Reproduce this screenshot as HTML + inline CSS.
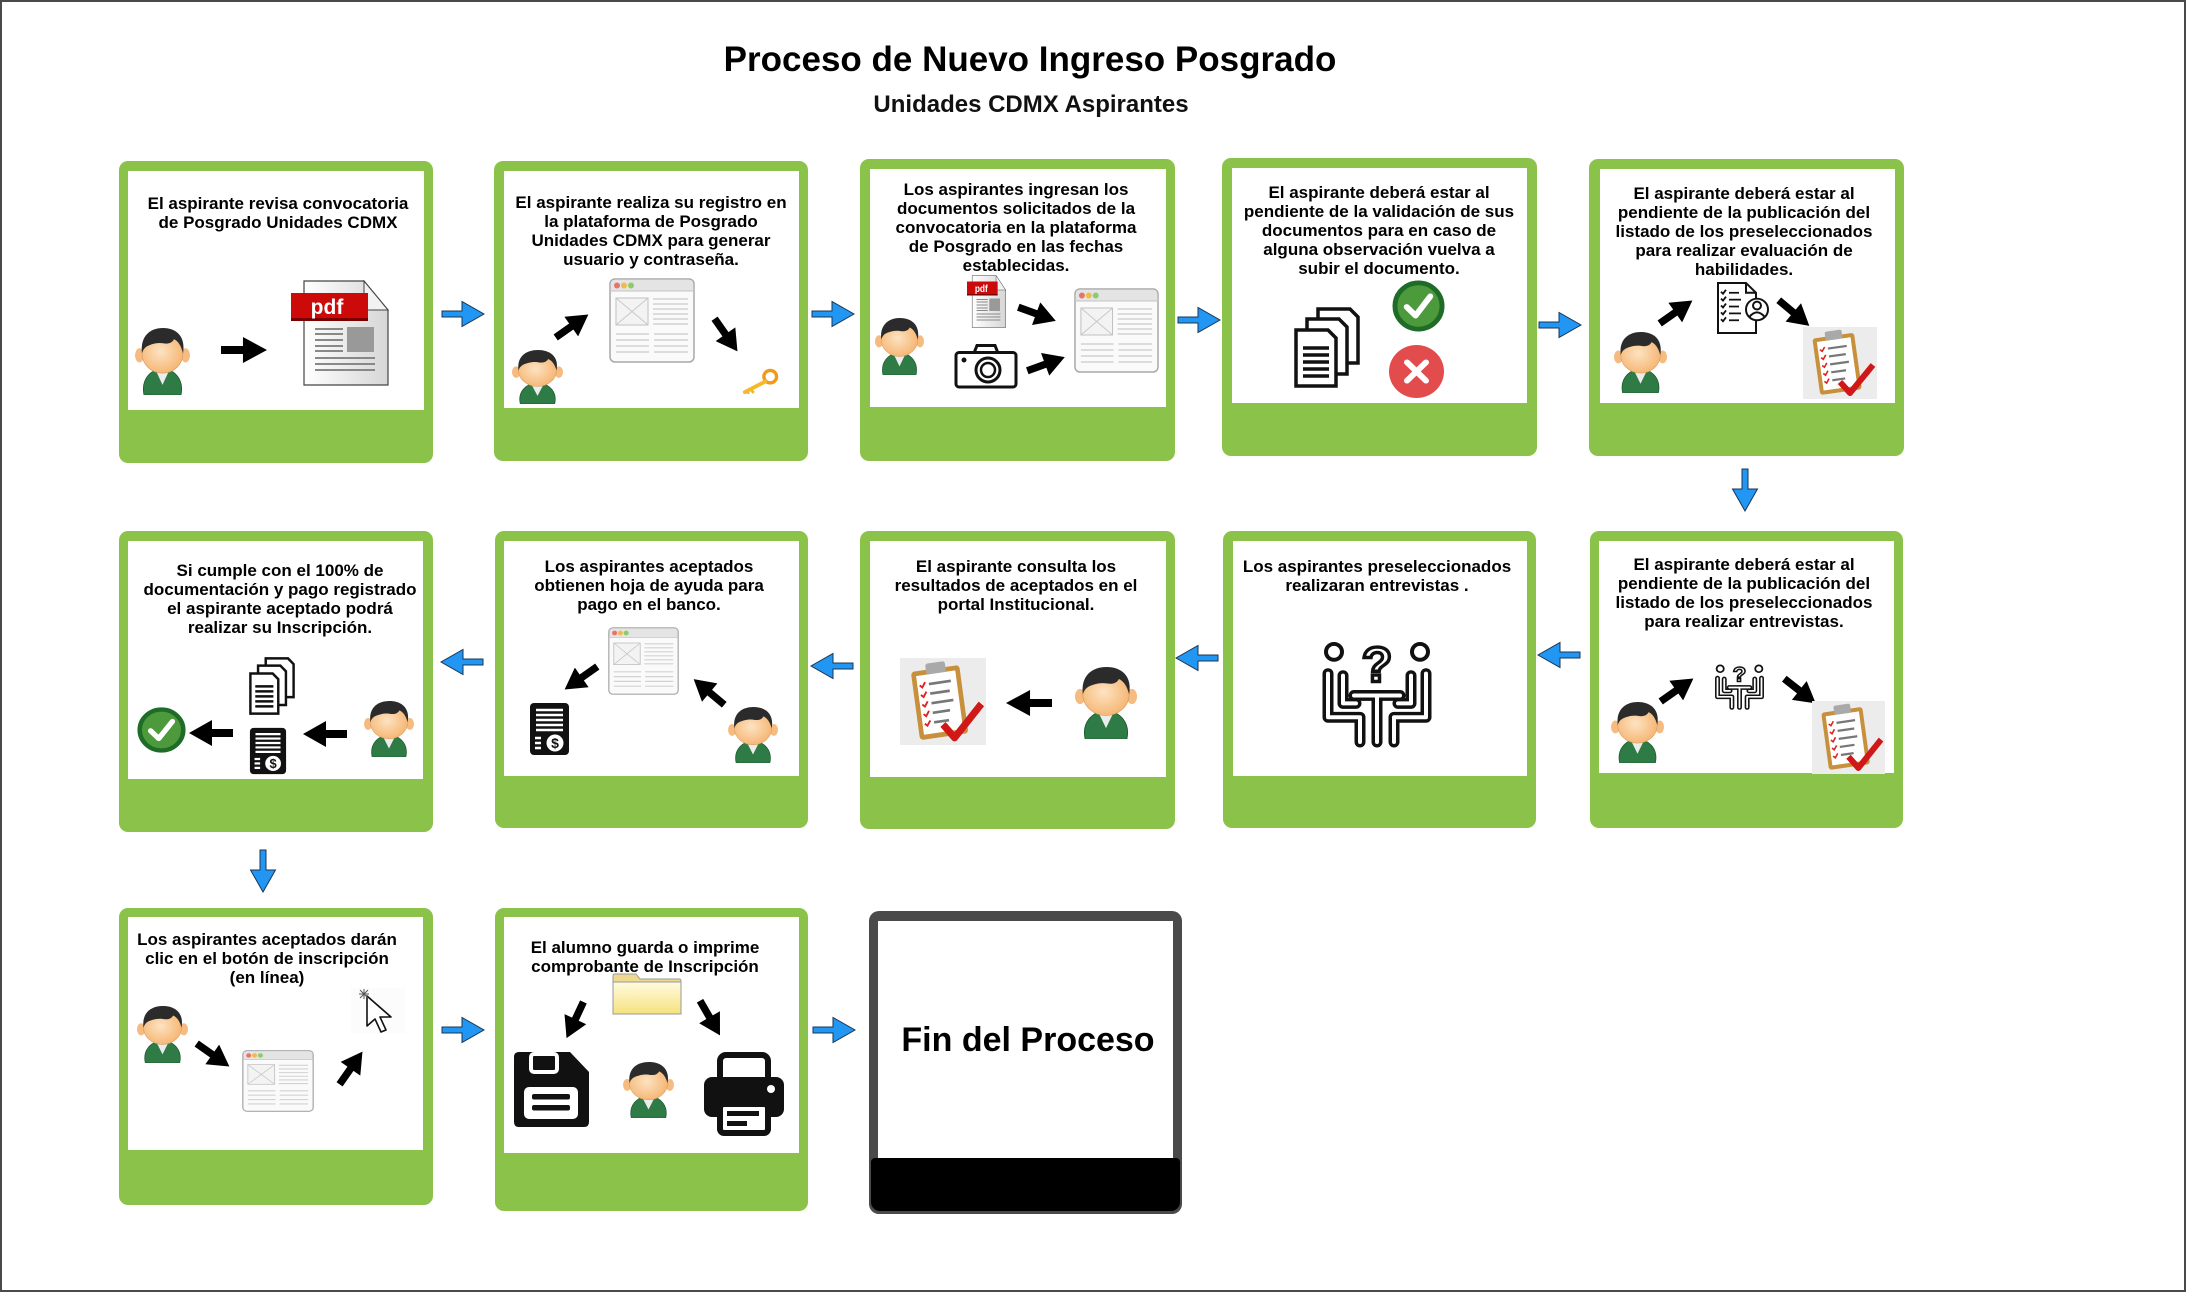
<!DOCTYPE html>
<html><head><meta charset="utf-8">
<style>
html,body{margin:0;padding:0;}
body{width:2186px;height:1292px;position:relative;overflow:hidden;background:#fff;font-family:"Liberation Sans",Arial,sans-serif;}
.frame{position:absolute;left:0;top:0;width:2182px;height:1288px;border:2px solid #4a4a4a;}
.g{position:absolute;background:#8bc34a;border-radius:9px;}
.w{position:absolute;background:#fff;}
.t{position:absolute;font-weight:bold;font-size:17px;line-height:19.2px;text-align:center;color:#000;white-space:nowrap;transform:translateX(-50%);}
.title{position:absolute;left:1030px;top:42px;font-size:35px;line-height:35px;font-weight:bold;white-space:nowrap;transform:translateX(-50%);color:#000;}
.sub{position:absolute;left:1031px;top:93px;font-size:24px;line-height:24px;font-weight:bold;white-space:nowrap;transform:translateX(-50%);color:#111;}
svg.ov{position:absolute;left:0;top:0;}
</style></head>
<body>
<div class="frame"></div>
<div class="title">Proceso de Nuevo Ingreso Posgrado</div>
<div class="sub">Unidades CDMX Aspirantes</div>

<!-- Row 1 -->
<div class="g" style="left:119px;top:161px;width:314px;height:302px"></div>
<div class="w" style="left:128px;top:171px;width:296px;height:239px"></div>
<div class="g" style="left:494px;top:161px;width:314px;height:300px"></div>
<div class="w" style="left:504px;top:171px;width:295px;height:237px"></div>
<div class="g" style="left:860px;top:159px;width:315px;height:302px"></div>
<div class="w" style="left:870px;top:169px;width:296px;height:238px"></div>
<div class="g" style="left:1222px;top:158px;width:315px;height:298px"></div>
<div class="w" style="left:1232px;top:168px;width:295px;height:235px"></div>
<div class="g" style="left:1589px;top:159px;width:315px;height:297px"></div>
<div class="w" style="left:1600px;top:169px;width:295px;height:234px"></div>
<!-- Row 2 -->
<div class="g" style="left:119px;top:531px;width:314px;height:301px"></div>
<div class="w" style="left:128px;top:541px;width:295px;height:238px"></div>
<div class="g" style="left:495px;top:531px;width:313px;height:297px"></div>
<div class="w" style="left:504px;top:541px;width:295px;height:235px"></div>
<div class="g" style="left:860px;top:531px;width:315px;height:298px"></div>
<div class="w" style="left:870px;top:541px;width:296px;height:236px"></div>
<div class="g" style="left:1223px;top:531px;width:313px;height:297px"></div>
<div class="w" style="left:1233px;top:541px;width:294px;height:235px"></div>
<div class="g" style="left:1590px;top:531px;width:313px;height:297px"></div>
<div class="w" style="left:1599px;top:541px;width:295px;height:232px"></div>
<!-- Row 3 -->
<div class="g" style="left:119px;top:908px;width:314px;height:297px"></div>
<div class="w" style="left:128px;top:917px;width:295px;height:233px"></div>
<div class="g" style="left:495px;top:908px;width:313px;height:303px"></div>
<div class="w" style="left:504px;top:917px;width:295px;height:236px"></div>
<!-- Fin -->
<div style="position:absolute;left:869px;top:911px;width:313px;height:303px;background:#4a4a4a;border-radius:10px"></div>
<div class="w" style="left:878px;top:921px;width:295px;height:237px"></div>
<div style="position:absolute;left:871px;top:1158px;width:309px;height:53px;background:#000;border-radius:4px 4px 9px 9px"></div>
<div style="position:absolute;left:1028px;top:1020px;transform:translateX(-50%);font-size:34px;line-height:40px;font-weight:bold;white-space:nowrap;color:#000">Fin del Proceso</div>

<!-- Texts -->
<div class="t" style="left:278px;top:193.5px">El aspirante revisa convocatoria<br>de Posgrado Unidades CDMX</div>
<div class="t" style="left:651px;top:192.5px">El aspirante realiza su registro en<br>la plataforma de Posgrado<br>Unidades CDMX para generar<br>usuario y contraseña.</div>
<div class="t" style="left:1016px;top:179.5px">Los aspirantes ingresan los<br>documentos solicitados de la<br>convocatoria en la plataforma<br>de Posgrado en las fechas<br>establecidas.</div>
<div class="t" style="left:1379px;top:182.5px">El aspirante deberá estar al<br>pendiente de la validación de sus<br>documentos para en caso de<br>alguna observación vuelva a<br>subir el documento.</div>
<div class="t" style="left:1744px;top:183.5px">El aspirante deberá estar al<br>pendiente de la publicación del<br>listado de los preseleccionados<br>para realizar evaluación de<br>habilidades.</div>
<div class="t" style="left:280px;top:560.5px">Si cumple con el 100% de<br>documentación y pago registrado<br>el aspirante aceptado podrá<br>realizar su Inscripción.</div>
<div class="t" style="left:649px;top:556.5px">Los aspirantes aceptados<br>obtienen hoja de ayuda para<br>pago en el banco.</div>
<div class="t" style="left:1016px;top:556.5px">El aspirante consulta los<br>resultados de aceptados en el<br>portal Institucional.</div>
<div class="t" style="left:1377px;top:556.5px">Los aspirantes preseleccionados<br>realizaran entrevistas .</div>
<div class="t" style="left:1744px;top:554.5px">El aspirante deberá estar al<br>pendiente de la publicación del<br>listado de los preseleccionados<br>para realizar entrevistas.</div>
<div class="t" style="left:267px;top:929.5px">Los aspirantes aceptados darán<br>clic en el botón de inscripción<br>(en línea)</div>
<div class="t" style="left:645px;top:937.5px">El alumno guarda o imprime<br>comprobante de Inscripción</div>

<svg class="ov" width="2186" height="1292" viewBox="0 0 2186 1292" xmlns="http://www.w3.org/2000/svg" xmlns:xlink="http://www.w3.org/1999/xlink">
<defs>
 <radialGradient id="face" cx="0.45" cy="0.45" r="0.6">
  <stop offset="0" stop-color="#fde3c2"/><stop offset="1" stop-color="#f5b470"/>
 </radialGradient>
 <linearGradient id="pg" x1="0" y1="0" x2="1" y2="0">
  <stop offset="0" stop-color="#ffffff"/><stop offset="1" stop-color="#d6d6d6"/>
 </linearGradient>
 <linearGradient id="fold" x1="0" y1="0" x2="0" y2="1">
  <stop offset="0" stop-color="#fffbe0"/><stop offset="1" stop-color="#f6e27e"/>
 </linearGradient>
 <symbol id="person" viewBox="0 0 55 66" preserveAspectRatio="none">
  <path d="M9,66 C6,52 14,41 27.5,40 C41,41 49,52 46,66 Z" fill="#2f7b46" stroke="#1e5a31" stroke-width="0.8"/>
  <path d="M20,40 L27.5,56 L35,40 Z" fill="#ececec"/>
  <ellipse cx="4.5" cy="27" rx="4.5" ry="7" fill="#f6bb80"/>
  <ellipse cx="50.5" cy="27" rx="4.5" ry="7" fill="#f6bb80"/>
  <ellipse cx="27.5" cy="25" rx="20.5" ry="19.5" fill="url(#face)" stroke="#d6995c" stroke-width="0.6"/>
  <path d="M7,25 C5,8 15,0 28,0 C41,0 51,8 48,25 C46,17 43,13 39,11 C37,15 33,16 28,15 C22,14 16,16 12,18 C9,20 8,22 7,25 Z" fill="#2b2b2b"/>
 </symbol>
 <symbol id="ba" viewBox="0 0 44 26" preserveAspectRatio="none">
  <polygon points="0,9 21,9 21,0 44,13 21,26 21,17 0,17" fill="#000"/>
 </symbol>
 <symbol id="bar" viewBox="0 0 44 27" preserveAspectRatio="none">
  <polygon points="1,10.5 21,10.5 21,1 43,13.5 21,26 21,16.5 1,16.5" fill="#2196f3" stroke="#1b3553" stroke-width="1"/>
 </symbol>
 <symbol id="pdf" viewBox="0 0 98 106" preserveAspectRatio="none">
  <path d="M13,1 H73 L97,30 V105 H13 Z" fill="url(#pg)" stroke="#444" stroke-width="1.2"/>
  <path d="M73,1 L97,30 H76 Q73,30 73,27 Z" fill="#f2f2f2" stroke="#444" stroke-width="1"/>
  <rect x="0" y="13" width="77" height="28" fill="#cc0a0a"/>
  <rect x="0" y="38" width="77" height="3" fill="#7a0000"/>
  <text x="36" y="34" font-family="Liberation Sans, Arial, sans-serif" font-weight="bold" font-size="21" fill="#fff" text-anchor="middle">pdf</text>
  <g stroke="#888" stroke-width="2">
   <line x1="24" y1="49" x2="52" y2="49"/><line x1="24" y1="54" x2="52" y2="54"/><line x1="24" y1="60" x2="52" y2="60"/><line x1="24" y1="66" x2="52" y2="66"/><line x1="24" y1="71" x2="52" y2="71"/>
   <line x1="24" y1="78" x2="84" y2="78"/><line x1="24" y1="84" x2="84" y2="84"/><line x1="24" y1="90" x2="84" y2="90"/>
  </g>
  <rect x="56" y="47" width="27" height="25" fill="#999"/>
 </symbol>
 <symbol id="browser" viewBox="0 0 86 85" preserveAspectRatio="none">
  <rect x="1" y="1" width="84" height="83" rx="5" fill="#fafafa" stroke="#a8a8a8" stroke-width="1.5"/>
  <path d="M1.8,13 V6 Q1.8,1.8 6,1.8 H80 Q84.2,1.8 84.2,6 V13 Z" fill="#e4e4e4"/>
  <line x1="1" y1="13" x2="85" y2="13" stroke="#c4c4c4"/>
  <circle cx="8" cy="7.5" r="3" fill="#e8736a"/>
  <circle cx="15" cy="7.5" r="3" fill="#eebc4a"/>
  <circle cx="22" cy="7.5" r="3" fill="#8ccc6a"/>
  <rect x="7" y="20" width="32" height="27" fill="#f3f3f3" stroke="#c0c0c0"/>
  <path d="M7,20 L39,47 M39,20 L7,47" stroke="#c8c8c8"/>
  <g stroke="#d2d2d2" stroke-width="1.5">
   <line x1="44" y1="21" x2="79" y2="21"/><line x1="44" y1="26" x2="79" y2="26"/><line x1="44" y1="31" x2="79" y2="31"/><line x1="44" y1="36" x2="79" y2="36"/><line x1="44" y1="41" x2="79" y2="41"/><line x1="44" y1="46" x2="79" y2="46"/>
   <line x1="7" y1="56" x2="40" y2="56"/><line x1="45" y1="56" x2="79" y2="56"/>
   <line x1="7" y1="62" x2="40" y2="62"/><line x1="45" y1="62" x2="79" y2="62"/>
   <line x1="7" y1="68" x2="40" y2="68"/><line x1="45" y1="68" x2="79" y2="68"/>
   <line x1="7" y1="74" x2="40" y2="74"/><line x1="45" y1="74" x2="79" y2="74"/>
  </g>
 </symbol>
 <symbol id="key" viewBox="0 0 40 27" preserveAspectRatio="none">
  <circle cx="31" cy="9" r="6.5" fill="none" stroke="#f09a1a" stroke-width="3.5"/>
  <line x1="26" y1="14" x2="5" y2="25" stroke="#f5b82a" stroke-width="4" stroke-linecap="round"/>
  <line x1="11" y1="22" x2="14" y2="26" stroke="#f5b82a" stroke-width="3"/>
  <line x1="7" y1="24" x2="9" y2="27" stroke="#f5b82a" stroke-width="3"/>
 </symbol>
 <symbol id="camera" viewBox="0 0 64 46" preserveAspectRatio="none">
  <path d="M20,10 L23,2.5 H41 L44,10" fill="#fff" stroke="#111" stroke-width="3"/>
  <rect x="2" y="9.5" width="60" height="34.5" rx="3" fill="#fff" stroke="#111" stroke-width="3"/>
  <circle cx="34" cy="27" r="12" fill="none" stroke="#111" stroke-width="3"/>
  <circle cx="34" cy="27" r="7" fill="none" stroke="#111" stroke-width="2.5"/>
  <circle cx="10" cy="17" r="2.5" fill="#111"/>
 </symbol>
 <symbol id="docs" viewBox="0 0 66 81" preserveAspectRatio="none">
  <path d="M24,2 H56 L64,10 V56 H24 Z" fill="#fff" stroke="#111" stroke-width="3.5"/>
  <path d="M13,12 H45 L53,20 V67 H13 Z" fill="#fff" stroke="#111" stroke-width="3.5"/>
  <path d="M2,23 H34 L42,31 V79 H2 Z" fill="#fff" stroke="#111" stroke-width="3.5"/>
  <g stroke="#111" stroke-width="3.5">
   <line x1="9" y1="41" x2="35" y2="41"/><line x1="9" y1="48" x2="35" y2="48"/><line x1="9" y1="55" x2="35" y2="55"/><line x1="9" y1="62" x2="35" y2="62"/><line x1="9" y1="69" x2="35" y2="69"/>
  </g>
 </symbol>
 <symbol id="chk" viewBox="0 0 54 54" preserveAspectRatio="none">
  <circle cx="27" cy="27" r="24" fill="#4c9a3c" stroke="#1f6b28" stroke-width="5"/>
  <path d="M15,28 L24,37 L39,17" stroke="#fff" stroke-width="6" fill="none" stroke-linecap="round" stroke-linejoin="round"/>
 </symbol>
 <symbol id="xx" viewBox="0 0 57 57" preserveAspectRatio="none">
  <circle cx="28.5" cy="28.5" r="27.5" fill="#e24c4c"/>
  <path d="M19,19 L38,38 M38,19 L19,38" stroke="#fff" stroke-width="6" stroke-linecap="round"/>
 </symbol>
 <symbol id="cl" viewBox="0 0 55 55" preserveAspectRatio="none">
  <path d="M3,2 H31 L41,12 V53 H3 Z" fill="#fff" stroke="#111" stroke-width="2"/>
  <path d="M31,2 V12 H41" fill="none" stroke="#111" stroke-width="2"/>
  <g stroke="#111" stroke-width="1.8" fill="none">
   <path d="M6,11 L8,13 L11,9"/><path d="M6,18 L8,20 L11,16"/><path d="M6,25 L8,27 L11,23"/><path d="M6,32 L8,34 L11,30"/><path d="M6,39 L8,41 L11,37"/>
   <line x1="14" y1="12" x2="24" y2="12"/><line x1="14" y1="19" x2="26" y2="19"/><line x1="14" y1="26" x2="24" y2="26"/><line x1="14" y1="33" x2="26" y2="33"/><line x1="14" y1="40" x2="24" y2="40"/>
  </g>
  <circle cx="42" cy="29" r="11" fill="#fff" stroke="#111" stroke-width="2"/>
  <circle cx="42" cy="25" r="4" fill="none" stroke="#111" stroke-width="2"/>
  <path d="M34,37 Q42,27 50,37" fill="none" stroke="#111" stroke-width="2"/>
 </symbol>
 <symbol id="clip" viewBox="0 0 74 72" preserveAspectRatio="none">
  <rect width="74" height="72" fill="#ececec"/>
  <g transform="rotate(-8 37 36)">
   <rect x="13" y="8" width="42" height="57" rx="3" fill="#c8903c"/>
   <rect x="17" y="12" width="34" height="49" fill="#fff"/>
   <rect x="26" y="3" width="17" height="9" rx="2" fill="#a9a9a9"/>
   <g stroke="#d22" stroke-width="1.6" fill="none">
    <path d="M19,20 L21,22 L24,18"/><path d="M19,28 L21,30 L24,26"/><path d="M19,36 L21,38 L24,34"/><path d="M19,44 L21,46 L24,42"/><path d="M19,52 L21,54 L24,50"/>
   </g>
   <g stroke="#777" stroke-width="2.2">
    <line x1="27" y1="20" x2="46" y2="20"/><line x1="27" y1="28" x2="44" y2="28"/><line x1="27" y1="36" x2="46" y2="36"/><line x1="27" y1="44" x2="42" y2="44"/><line x1="27" y1="52" x2="40" y2="52"/>
   </g>
  </g>
  <path d="M37,55 L47,66 L70,38" stroke="#d01818" stroke-width="6" fill="none" stroke-linejoin="round"/>
 </symbol>
 <symbol id="intv" viewBox="0 0 118 113" preserveAspectRatio="none">
  <g fill="none" stroke-linecap="round" stroke-linejoin="round">
   <g stroke="#111" stroke-width="11">
    <path d="M10,38 V82 H42 V107"/><path d="M108,38 V82 H76 V107"/>
    <path d="M36,60 H82"/><path d="M59,60 V107"/>
    <path d="M25,40 V68 H38"/><path d="M93,40 V68 H80"/>
   </g>
   <g stroke="#fff" stroke-width="4">
    <path d="M10,38 V82 H42 V107"/><path d="M108,38 V82 H76 V107"/>
    <path d="M36,60 H82"/><path d="M59,60 V107"/>
    <path d="M25,40 V68 H38"/><path d="M93,40 V68 H80"/>
   </g>
  </g>
  <circle cx="16" cy="16" r="8" fill="#fff" stroke="#111" stroke-width="4"/>
  <circle cx="102" cy="16" r="8" fill="#fff" stroke="#111" stroke-width="4"/>
  <text x="59" y="46" font-family="Liberation Sans, Arial, sans-serif" font-size="50" font-weight="bold" fill="#fff" stroke="#111" stroke-width="3.5" text-anchor="middle">?</text>
 </symbol>
 <symbol id="rcpt" viewBox="0 0 41 54" preserveAspectRatio="none">
  <rect x="1" y="1" width="39" height="52" rx="4" fill="#111"/>
  <g stroke="#fff" stroke-width="2.5">
   <line x1="7" y1="8" x2="34" y2="8"/><line x1="7" y1="13" x2="34" y2="13"/><line x1="7" y1="18" x2="34" y2="18"/><line x1="7" y1="23" x2="34" y2="23"/><line x1="7" y1="28" x2="34" y2="28"/>
   <line x1="6" y1="36" x2="12" y2="36"/><line x1="6" y1="41" x2="12" y2="41"/><line x1="6" y1="46" x2="12" y2="46"/>
  </g>
  <circle cx="26" cy="41" r="8.5" fill="#fff"/>
  <text x="26" y="46" font-family="Liberation Sans, Arial, sans-serif" font-size="14" font-weight="bold" fill="#111" text-anchor="middle">$</text>
 </symbol>
 <symbol id="cursor" viewBox="0 0 54 45" preserveAspectRatio="none">
  <rect width="54" height="45" fill="#fcfcfc"/>
  <polygon points="16,8 16,38 24,31 30,44 35,42 29,29 40,29" fill="#fff" stroke="#111" stroke-width="1.6" stroke-linejoin="round"/>
  <g stroke="#555" stroke-width="1">
   <line x1="13" y1="1" x2="13" y2="11"/><line x1="8" y1="6" x2="18" y2="6"/><line x1="9" y1="2" x2="17" y2="10"/><line x1="17" y1="2" x2="9" y2="10"/>
  </g>
 </symbol>
 <symbol id="folder" viewBox="0 0 70 42" preserveAspectRatio="none">
  <path d="M1,9 V3 Q1,1 3,1 H24 L28,6 H67 Q69,6 69,8 V9 Z" fill="#efd98e" stroke="#999"/>
  <rect x="1" y="9" width="68" height="32" fill="url(#fold)" stroke="#999"/>
 </symbol>
 <symbol id="floppy" viewBox="0 0 75 75" preserveAspectRatio="none">
  <path d="M0,5 Q0,0 5,0 H56 L75,20 V70 Q75,75 70,75 H5 Q0,75 0,70 Z" fill="#111"/>
  <rect x="17" y="2" width="26" height="18" rx="3" fill="#111" stroke="#fff" stroke-width="4"/>
  <rect x="10" y="35" width="54" height="32" rx="5" fill="#fff"/>
  <rect x="18" y="42" width="38" height="5.5" rx="2" fill="#111"/>
  <rect x="18" y="53" width="38" height="5.5" rx="2" fill="#111"/>
 </symbol>
 <symbol id="printer" viewBox="0 0 82 84" preserveAspectRatio="none">
  <rect x="17" y="3" width="48" height="28" rx="6" fill="#fff" stroke="#111" stroke-width="6"/>
  <rect x="1" y="25" width="80" height="40" rx="8" fill="#111"/>
  <circle cx="68" cy="37" r="4" fill="#fff"/>
  <rect x="17" y="52" width="48" height="29" rx="4" fill="#fff" stroke="#111" stroke-width="6"/>
  <rect x="24" y="59" width="32" height="5" fill="#111"/>
  <rect x="24" y="69" width="20" height="5" fill="#111"/>
 </symbol>
</defs>

<!-- Blue connector arrows -->
<use xlink:href="#bar" href="#bar" x="441" y="300.5" width="44" height="27"/>
<use xlink:href="#bar" href="#bar" x="811" y="300.5" width="44" height="27"/>
<use xlink:href="#bar" href="#bar" x="1177" y="306.5" width="44" height="27"/>
<use xlink:href="#bar" href="#bar" x="1538" y="311.5" width="44" height="27"/>
<use xlink:href="#bar" href="#bar" x="1723" y="476.5" width="44" height="27" transform="rotate(90 1745 490)"/>
<use xlink:href="#bar" href="#bar" x="1537" y="641.5" width="44" height="27" transform="rotate(180 1559 655)"/>
<use xlink:href="#bar" href="#bar" x="1175" y="644.5" width="44" height="27" transform="rotate(180 1197 658)"/>
<use xlink:href="#bar" href="#bar" x="810" y="652.5" width="44" height="27" transform="rotate(180 832 666)"/>
<use xlink:href="#bar" href="#bar" x="440" y="648.5" width="44" height="27" transform="rotate(180 462 662)"/>
<use xlink:href="#bar" href="#bar" x="241" y="857.5" width="44" height="27" transform="rotate(90 263 871)"/>
<use xlink:href="#bar" href="#bar" x="441" y="1016.5" width="44" height="27"/>
<use xlink:href="#bar" href="#bar" x="812" y="1016.5" width="44" height="27"/>

<!-- Box 1 -->
<use xlink:href="#person" href="#person" x="135" y="328" width="55" height="67"/>
<use xlink:href="#ba" href="#ba" x="-23" y="-13" width="46" height="26" transform="translate(244 350)"/>
<use xlink:href="#pdf" href="#pdf" x="291" y="280" width="98" height="106"/>
<!-- Box 2 -->
<use xlink:href="#person" href="#person" x="512" y="350" width="51" height="54"/>
<use xlink:href="#ba" href="#ba" x="-20" y="-12" width="40" height="24" transform="translate(572 326) rotate(-35)"/>
<use xlink:href="#browser" href="#browser" x="609" y="278" width="86" height="85"/>
<use xlink:href="#ba" href="#ba" x="-20" y="-12" width="40" height="24" transform="translate(726 335) rotate(55)"/>
<use xlink:href="#key" href="#key" x="740" y="368" width="39" height="26"/>
<!-- Box 3 -->
<use xlink:href="#person" href="#person" x="875" y="318" width="49" height="57"/>
<use xlink:href="#pdf" href="#pdf" x="967" y="275" width="39" height="53"/>
<use xlink:href="#ba" href="#ba" x="-20" y="-12" width="40" height="24" transform="translate(1037 314) rotate(20)"/>
<use xlink:href="#camera" href="#camera" x="954" y="343" width="64" height="46"/>
<use xlink:href="#ba" href="#ba" x="-20" y="-12" width="40" height="24" transform="translate(1046 364) rotate(-20)"/>
<use xlink:href="#browser" href="#browser" x="1074" y="288" width="85" height="85"/>
<!-- Box 4 -->
<use xlink:href="#docs" href="#docs" x="1294" y="307" width="66" height="81"/>
<use xlink:href="#chk" href="#chk" x="1392" y="280" width="53" height="52"/>
<use xlink:href="#xx" href="#xx" x="1388" y="344" width="57" height="55"/>
<!-- Box 5 -->
<use xlink:href="#person" href="#person" x="1614" y="332" width="53" height="61"/>
<use xlink:href="#ba" href="#ba" x="-20" y="-12" width="40" height="24" transform="translate(1676 312) rotate(-35)"/>
<use xlink:href="#cl" href="#cl" x="1715" y="281" width="55" height="54"/>
<use xlink:href="#ba" href="#ba" x="-20" y="-12" width="40" height="24" transform="translate(1794 313) rotate(40)"/>
<use xlink:href="#clip" href="#clip" x="1803" y="327" width="74" height="72"/>
<!-- Box 6 -->
<use xlink:href="#chk" href="#chk" x="137" y="707" width="49" height="46"/>
<use xlink:href="#ba" href="#ba" x="-22" y="-13" width="44" height="26" transform="translate(211 733) rotate(180)"/>
<use xlink:href="#docs" href="#docs" x="249" y="657" width="46" height="58"/>
<use xlink:href="#rcpt" href="#rcpt" x="249" y="727" width="38" height="48"/>
<use xlink:href="#ba" href="#ba" x="-22" y="-13" width="44" height="26" transform="translate(325 734) rotate(180)"/>
<use xlink:href="#person" href="#person" x="364" y="701" width="50" height="56"/>
<!-- Box 7 -->
<use xlink:href="#browser" href="#browser" x="608" y="627" width="71" height="68"/>
<use xlink:href="#ba" href="#ba" x="-20" y="-12" width="40" height="24" transform="translate(581 678) rotate(145)"/>
<use xlink:href="#rcpt" href="#rcpt" x="529" y="702" width="41" height="54"/>
<use xlink:href="#ba" href="#ba" x="-20" y="-12" width="40" height="24" transform="translate(709 692) rotate(-140)"/>
<use xlink:href="#person" href="#person" x="728" y="707" width="50" height="56"/>
<!-- Box 8 -->
<use xlink:href="#clip" href="#clip" x="900" y="658" width="86" height="87"/>
<use xlink:href="#ba" href="#ba" x="-23" y="-13" width="46" height="26" transform="translate(1029 703) rotate(180)"/>
<use xlink:href="#person" href="#person" x="1075" y="667" width="62" height="72"/>
<!-- Box 9 -->
<use xlink:href="#intv" href="#intv" x="1318" y="636" width="118" height="112"/>
<!-- Box 10 -->
<use xlink:href="#person" href="#person" x="1611" y="702" width="53" height="61"/>
<use xlink:href="#ba" href="#ba" x="-20" y="-12" width="40" height="24" transform="translate(1677 690) rotate(-35)"/>
<use xlink:href="#intv" href="#intv" x="1713" y="662" width="53" height="48"/>
<use xlink:href="#ba" href="#ba" x="-20" y="-12" width="40" height="24" transform="translate(1800 691) rotate(38)"/>
<use xlink:href="#clip" href="#clip" x="1812" y="701" width="73" height="73"/>
<!-- Box 11 -->
<use xlink:href="#person" href="#person" x="137" y="1006" width="51" height="57"/>
<use xlink:href="#ba" href="#ba" x="-20" y="-12" width="40" height="24" transform="translate(213 1055) rotate(35)"/>
<use xlink:href="#browser" href="#browser" x="242" y="1050" width="72" height="62"/>
<use xlink:href="#ba" href="#ba" x="-20" y="-12" width="40" height="24" transform="translate(351 1068) rotate(-55)"/>
<use xlink:href="#cursor" href="#cursor" x="351" y="988" width="54" height="45"/>
<!-- Box 12 -->
<use xlink:href="#folder" href="#folder" x="612" y="973" width="70" height="42"/>
<use xlink:href="#ba" href="#ba" x="-20" y="-12" width="40" height="24" transform="translate(575 1020) rotate(115)"/>
<use xlink:href="#ba" href="#ba" x="-20" y="-12" width="40" height="24" transform="translate(710 1018) rotate(60)"/>
<use xlink:href="#floppy" href="#floppy" x="514" y="1052" width="75" height="75"/>
<use xlink:href="#person" href="#person" x="623" y="1062" width="51" height="56"/>
<use xlink:href="#printer" href="#printer" x="703" y="1052" width="82" height="84"/>
</svg>
</body></html>
